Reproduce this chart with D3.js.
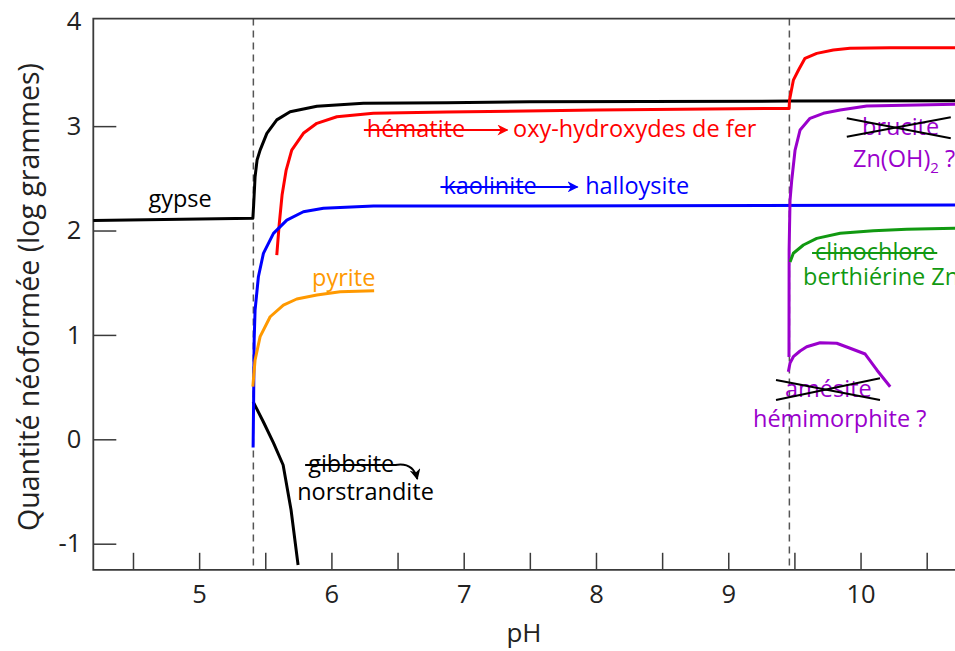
<!DOCTYPE html>
<html><head><meta charset="utf-8">
<script src="https://cdn.jsdelivr.net/npm/d3@7"></script>
<style>
html,body{margin:0;padding:0;background:#fff;}
svg{display:block;font-family:"Open Sans",sans-serif;}
</style></head><body>
<svg id="chart" width="955" height="651"></svg>
<script>
// ---------- data ----------
const xTickValues = [4.5,5,5.5,6,6.5,7,7.5,8,8.5,9,9.5,10,10.5];
const yTickValues = [-1,0,1,2,3,4];
const dashedPH = [5.41, 9.462];

const gypse = [[4.20,2.095],[5.406,2.117],[5.412,2.24],[5.423,2.515],[5.438,2.675],[5.461,2.77],[5.512,2.93],[5.587,3.06],[5.688,3.138],[5.89,3.19],[6.242,3.218],[6.872,3.224],[7.50,3.234],[9.467,3.24],[10.72,3.243]];
const norstrandite = [[5.408,0.36],[5.486,0.166],[5.562,-0.035],[5.635,-0.246],[5.695,-0.677],[5.748,-1.204]];
const hematite = [[5.587,1.765],[5.605,2.053],[5.627,2.34],[5.658,2.579],[5.70,2.771],[5.788,2.931],[5.89,3.027],[6.041,3.09],[6.317,3.123],[6.872,3.135],[8.006,3.154],[9.46,3.17],[9.463,3.25],[9.492,3.44],[9.53,3.535],[9.58,3.65],[9.669,3.697],[9.794,3.729],[9.92,3.745],[10.223,3.751],[10.72,3.751]];
const kaolinite = [[5.408,-0.078],[5.412,0.376],[5.416,0.95],[5.423,1.238],[5.448,1.557],[5.486,1.781],[5.562,1.973],[5.663,2.10],[5.788,2.18],[5.94,2.213],[6.318,2.235],[7.50,2.235],[10.72,2.244]];
const pyrite = [[5.406,0.504],[5.423,0.76],[5.461,0.983],[5.537,1.174],[5.637,1.286],[5.738,1.344],[5.89,1.382],[6.066,1.414],[6.323,1.423]];
const brucite = [[9.459,0.789],[9.46,1.813],[9.467,2.292],[9.48,2.484],[9.505,2.771],[9.543,2.963],[9.618,3.075],[9.719,3.123],[9.846,3.154],[10.047,3.193],[10.72,3.209]];
const amesite = [[9.454,0.647],[9.467,0.731],[9.492,0.791],[9.543,0.846],[9.593,0.887],[9.694,0.925],[9.82,0.92],[9.921,0.872],[10.035,0.817],[10.123,0.664],[10.224,0.504]];
const clinochlore = [[9.467,1.698],[9.492,1.782],[9.568,1.861],[9.669,1.925],[9.846,1.973],[10.097,1.998],[10.349,2.011],[10.72,2.021]];

const seriesColors = {black:"#000000", red:"#ff0000", blue:"#0000ff", orange:"#ff9900", purple:"#9a00cc", green:"#119911"};

// ---------- scales ----------
const svg = d3.select("#chart");
const x = d3.scaleLinear().domain([4.2,10.72]).range([93.3,955.8]);
const y = d3.scaleLinear().domain([-1.25,4.03]).range([569.8,18.6]);
const line = d3.line().x(d=>x(d[0])).y(d=>y(d[1]));

const axisColor = "#3a3a3a";

// dashed lines
svg.selectAll(".dash").data(dashedPH).join("line")
  .attr("x1",d=>x(d)).attr("x2",d=>x(d)).attr("y1",y(4.03)).attr("y2",y(-1.25))
  .attr("stroke","#555").attr("stroke-width",1.5).attr("stroke-dasharray","7,5");

// axes
const yAxis = d3.axisLeft(y).tickValues(yTickValues).tickSize(-23).tickPadding(12).tickFormat(d=>String(d));
const gy = svg.append("g").attr("transform",`translate(${x(4.2)},0)`).call(yAxis);
gy.select(".domain").remove();
gy.selectAll(".tick").filter(d=>d===4).select("line").remove();
gy.selectAll(".tick line").attr("stroke",axisColor).attr("stroke-width",1.5);
gy.selectAll(".tick text").attr("font-size",25.5).attr("fill","#222").attr("font-family","Open Sans");

const xAxis = d3.axisBottom(x).tickValues(xTickValues).tickSize(-17).tickPadding(15)
  .tickFormat(d=>Number.isInteger(d)?String(d):"");
const gx = svg.append("g").attr("transform",`translate(0,${y(-1.25)})`).call(xAxis);
gx.select(".domain").remove();
gx.selectAll(".tick line").attr("stroke",axisColor).attr("stroke-width",1.5);
gx.selectAll(".tick text").attr("font-size",25.5).attr("fill","#222").attr("font-family","Open Sans");

// frame (left, bottom, top)
svg.append("path")
  .attr("d",`M${x(10.72)},${y(4.03)}H${x(4.2)}V${y(-1.25)}H${x(10.72)}`)
  .attr("fill","none").attr("stroke",axisColor).attr("stroke-width",1.8);

// axis titles
svg.append("text").attr("x",524).attr("y",642).attr("text-anchor","middle")
  .attr("font-size",26).attr("fill","#222").text("pH");
svg.append("text").attr("transform","translate(39,297) rotate(-90)").attr("text-anchor","middle")
  .attr("font-size",28.5).attr("fill","#222").text("Quantité néoformée (log grammes)");

// curves
const curves = [
  {d:gypse,c:"black"},{d:norstrandite,c:"black"},{d:hematite,c:"red"},{d:kaolinite,c:"blue"},
  {d:pyrite,c:"orange"},{d:brucite,c:"purple"},{d:amesite,c:"purple"},{d:clinochlore,c:"green"}
];
svg.selectAll(".curve").data(curves).join("path")
  .attr("d",d=>line(d.d)).attr("fill","none").attr("stroke",d=>seriesColors[d.c])
  .attr("stroke-width",3).attr("stroke-linejoin","round").attr("stroke-linecap","butt");

// markers
const defs = svg.append("defs");
["red","blue","black"].forEach(c=>{
  defs.append("marker").attr("id","arr-"+c).attr("viewBox","0 0 10 10").attr("refX",9).attr("refY",5)
    .attr("markerWidth",11).attr("markerHeight",11).attr("markerUnits","userSpaceOnUse").attr("orient","auto")
    .append("path").attr("d","M0,0L10,5L0,10L3,5Z").attr("fill",seriesColors[c]);
});

// labels
const fs = 23.5;
function label(px, v, txt, col, anchor){
  return svg.append("text").attr("x",x(px)).attr("y",y(v)).attr("font-size",fs)
    .attr("fill",seriesColors[col]).attr("text-anchor",anchor||"start").text(txt);
}
function strike(t, col, extendTo){
  const b = t.node().getBBox();
  const yy = b.y + b.height*0.56;
  const x2 = extendTo!==undefined ? x(extendTo) : b.x+b.width+2;
  const l = svg.append("line").attr("x1",b.x-3).attr("x2",x2).attr("y1",yy).attr("y2",yy)
    .attr("stroke",seriesColors[col]).attr("stroke-width",2);
  return {l, yy, b};
}

label(4.856,2.225,"gypse","black","middle");

const tHem = label(6.268,2.895,"hématite","red");
const sHem = strike(tHem,"red",7.33); sHem.l.attr("marker-end","url(#arr-red)");
label(7.373,2.895,"oxy-hydroxydes de fer","red");

const tKao = label(6.847,2.35,"kaolinite","blue");
const sKao = strike(tKao,"blue",7.86); sKao.l.attr("marker-end","url(#arr-blue)");
label(7.918,2.35,"halloysite","blue");

label(5.854,1.467,"pyrite","orange");

const tGib = label(5.824,-0.313,"gibbsite","black");
const sGib = strike(tGib,"black");
{
  const x0 = sGib.b.x+sGib.b.width+1, y0 = sGib.yy;
  svg.append("path").attr("d",`M${x0},${y0} Q${x0+18},${y0-3} ${x0+22},${y0+14}`)
    .attr("fill","none").attr("stroke","#000").attr("stroke-width",2).attr("marker-end","url(#arr-black)");
}
label(5.741,-0.581,"norstrandite","black");

label(10.011,2.915,"brucite","purple");
const zn = label(9.943,2.608,"","purple");
zn.append("tspan").text("Zn(OH)");
zn.append("tspan").attr("font-size",15).attr("dy",6).text("2");
zn.append("tspan").attr("dy",-6).text(" ?");

const tCli = label(9.656,1.717,"clinochlore","green");
strike(tCli,"green");
label(9.565,1.478,"berthiérine Zn","green");

label(9.429,0.405,"amésite","purple");
label(9.187,0.118,"hémimorphite ?","purple");

// crosses
const crosses = [
  [[9.896,3.075],[10.682,2.883]],[[9.896,2.898],[10.682,3.084]],
  [[9.361,0.568],[10.147,0.376]],[[9.361,0.376],[10.147,0.584]]
];
svg.selectAll(".cross").data(crosses).join("path").attr("d",d=>line(d))
  .attr("stroke","#000").attr("stroke-width",2).attr("fill","none");
</script>
</body></html>
